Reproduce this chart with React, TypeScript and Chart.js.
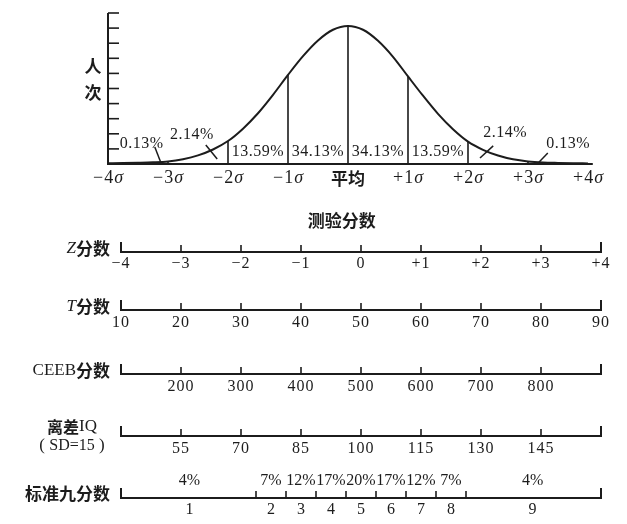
import React, { useEffect, useRef } from 'react';
import { Chart, registerables } from 'chart.js';
Chart.register(...registerables);

// ---- Normal curve (y in axis units 0..10) ----
const curveX = [-4, -3.75, -3.5, -3.25, -3, -2.75, -2.5, -2.25, -2, -1.75, -1.5, -1.25, -1, -0.75, -0.5, -0.25, 0,
  0.25, 0.5, 0.75, 1, 1.25, 1.5, 1.75, 2, 2.25, 2.5, 2.75, 3, 3.25, 3.5, 3.75, 4];
const curveY = [0.05, 0.06, 0.08, 0.11, 0.17, 0.32, 0.57, 0.96, 1.52, 2.34, 3.36, 4.58, 5.9, 7.14, 8.18, 8.89, 9.14,
  8.89, 8.16, 7.1, 5.8, 4.52, 3.32, 2.3, 1.48, 0.94, 0.56, 0.31, 0.17, 0.1, 0.07, 0.05, 0.04];

const dividerX = [-3, -2, -1, 0, 1, 2, 3];
const yTickValues = [1, 2, 3, 4, 5, 6, 7, 8, 9, 10];

const sigmaTicks = [-4, -3, -2, -1, 0, 1, 2, 3, 4];
const sigmaLabels = ['−4σ', '−3σ', '−2σ', '−1σ', '平均', '+1σ', '+2σ', '+3σ', '+4σ'];

const bandCenters = [-1.5, -0.5, 0.5, 1.5];
const bandPercents = ['13.59%', '34.13%', '34.13%', '13.59%'];

const tailLabels = ['0.13%', '2.14%', '2.14%', '0.13%'];
const tailLabelX = [-3.44, -2.6, 2.62, 3.67];
const tailLabelY = [1.32, 1.92, 2.05, 1.32];
const tailMarkFrom = [[-3.22, 1.13], [-2.37, 1.26], [2.2, 0.4], [3.17, 0.07]];
const tailMarkTo = [[-3.12, 0.1], [-2.18, 0.33], [2.42, 1.2], [3.33, 0.73]];

// ---- Score rulers ----
const zTicks = [-4, -3, -2, -1, 0, 1, 2, 3, 4];
const zLabels = ['−4', '−3', '−2', '−1', '0', '+1', '+2', '+3', '+4'];
const tLabels = ['10', '20', '30', '40', '50', '60', '70', '80', '90'];
const midTicks = [-3, -2, -1, 0, 1, 2, 3];
const ceebLabels = ['200', '300', '400', '500', '600', '700', '800'];
const iqLabels = ['55', '70', '85', '100', '115', '130', '145'];
const stanineCuts = [-1.75, -1.25, -0.75, -0.25, 0.25, 0.75, 1.25, 1.75];
const stanineCenters = [-2.86, -1.5, -1, -0.5, 0, 0.5, 1, 1.5, 2.86];
const staninePercents = ['4%', '7%', '12%', '17%', '20%', '17%', '12%', '7%', '4%'];
const stanineNumbers = ['1', '2', '3', '4', '5', '6', '7', '8', '9'];

const RULER_SHIFT = 0.2167; // rulers sit slightly right of the curve's sigma scale
const SERIF = '"Liberation Serif", "Times New Roman", serif';
const CJK = '"Noto Sans CJK SC", "Noto Sans", sans-serif';
const INK = '#1c1c1c';

type Seg = { t: string; f: string; ls?: number };

function drawSegs(ctx: CanvasRenderingContext2D, segs: Seg[], x: number, y: number, align: 'left' | 'center' | 'right') {
  const c: any = ctx;
  const widths = segs.map((s) => {
    ctx.font = s.f;
    c.letterSpacing = (s.ls || 0) + 'px';
    return ctx.measureText(s.t).width;
  });
  const total = widths.reduce((a, b) => a + b, 0);
  let cx = align === 'left' ? x : align === 'right' ? x - total : x - total / 2;
  ctx.textAlign = 'left';
  ctx.textBaseline = 'middle';
  segs.forEach((s, i) => {
    ctx.font = s.f;
    c.letterSpacing = (s.ls || 0) + 'px';
    ctx.fillText(s.t, cx, y);
    cx += widths[i];
  });
  c.letterSpacing = '0px';
}

function seg(ctx: CanvasRenderingContext2D, x1: number, y1: number, x2: number, y2: number, w: number) {
  ctx.lineWidth = w;
  ctx.beginPath();
  ctx.moveTo(x1, y1);
  ctx.lineTo(x2, y2);
  ctx.stroke();
}

const heightAt = (x: number) => curveY[curveX.indexOf(x)];

const decor = {
  id: 'decor',
  afterDatasetsDraw(chart: any) {
    const ctx: CanvasRenderingContext2D = chart.ctx;
    const xs = chart.scales.x, ys = chart.scales.y, zs = chart.scales.zb;
    const X = (v: number) => xs.getPixelForValue(v);
    const Y = (v: number) => ys.getPixelForValue(v);
    const Z = (v: number) => zs.getPixelForValue(v);
    ctx.save();
    ctx.strokeStyle = INK;
    ctx.fillStyle = INK;

    // axes of the curve panel
    seg(ctx, X(-4), Y(10), X(-4), Y(0) + 1, 2);
    seg(ctx, X(-4), Y(0), X(4.08), Y(0), 2);
    yTickValues.forEach((v) => seg(ctx, X(-4), Y(v), X(-4) + 11, Y(v), 1.6));
    drawSegs(ctx, [{ t: '人', f: `bold 17px ${CJK}` }], X(-4) - 15, Y(6.45), 'center');
    drawSegs(ctx, [{ t: '次', f: `bold 17px ${CJK}` }], X(-4) - 15, Y(4.75), 'center');

    // sigma labels
    const ly = Y(0) + 14;
    sigmaTicks.forEach((v, i) => {
      const lab = sigmaLabels[i];
      if (lab.endsWith('σ')) {
        drawSegs(ctx, [
          { t: lab.slice(0, -1), f: `18px ${SERIF}`, ls: 1 },
          { t: 'σ', f: `italic 18px ${SERIF}` },
        ], X(v), ly, 'center');
      } else {
        drawSegs(ctx, [{ t: lab, f: `bold 17px ${CJK}` }], X(v), ly + 1, 'center');
      }
    });

    // band percentages
    bandCenters.forEach((v, i) => {
      drawSegs(ctx, [{ t: bandPercents[i], f: `16px ${SERIF}`, ls: 0.5 }], X(v), Y(0.82), 'center');
    });
    // tails
    tailLabels.forEach((t, i) => {
      drawSegs(ctx, [{ t, f: `16px ${SERIF}`, ls: 0.5 }], X(tailLabelX[i]), Y(tailLabelY[i]), 'center');
      const a = tailMarkFrom[i], b = tailMarkTo[i];
      seg(ctx, X(a[0]), Y(a[1]), X(b[0]), Y(b[1]), 1.5);
    });

    // title of rulers
    drawSegs(ctx, [{ t: '测验分数', f: `bold 17px ${CJK}` }], Z(-0.32), 221, 'center');

    const ruler = (y: number, ticks: number[]) => {
      seg(ctx, Z(-4), y, Z(4), y, 2);
      seg(ctx, Z(-4), y + 1, Z(-4), y - 10, 2);
      seg(ctx, Z(4), y + 1, Z(4), y - 10, 2);
      ticks.forEach((v) => seg(ctx, Z(v), y, Z(v), y - 7, 1.6));
    };
    const numFont = `16px ${SERIF}`;

    // Z
    ruler(252, midTicks);
    zTicks.forEach((v, i) => drawSegs(ctx, [{ t: zLabels[i], f: numFont, ls: 1 }], Z(v), 264, 'center'));
    drawSegs(ctx, [{ t: 'Z', f: `italic 17px ${SERIF}` }, { t: '分数', f: `bold 17px ${CJK}` }], 110, 249, 'right');
    // T
    ruler(310, midTicks);
    zTicks.forEach((v, i) => drawSegs(ctx, [{ t: tLabels[i], f: numFont, ls: 1 }], Z(v), 323, 'center'));
    drawSegs(ctx, [{ t: 'T', f: `italic 17px ${SERIF}` }, { t: '分数', f: `bold 17px ${CJK}` }], 110, 307, 'right');
    // CEEB
    ruler(374, midTicks);
    midTicks.forEach((v, i) => drawSegs(ctx, [{ t: ceebLabels[i], f: numFont, ls: 1 }], Z(v), 387, 'center'));
    drawSegs(ctx, [{ t: 'CEEB', f: `17px ${SERIF}` }, { t: '分数', f: `bold 17px ${CJK}` }], 110, 371, 'right');
    // IQ
    ruler(436, midTicks);
    midTicks.forEach((v, i) => drawSegs(ctx, [{ t: iqLabels[i], f: numFont, ls: 1 }], Z(v), 449, 'center'));
    drawSegs(ctx, [{ t: '离差', f: `bold 16px ${CJK}` }, { t: 'IQ', f: `17px ${SERIF}` }], 72, 427, 'center');
    drawSegs(ctx, [{ t: '( ', f: `17px ${SERIF}` }, { t: 'SD=15', f: `16px ${SERIF}` }, { t: ' )', f: `17px ${SERIF}` }], 72, 446, 'center');
    // Stanine
    ruler(498, stanineCuts);
    stanineCenters.forEach((v, i) => {
      drawSegs(ctx, [{ t: staninePercents[i], f: numFont }], Z(v), 481, 'center');
      drawSegs(ctx, [{ t: stanineNumbers[i], f: numFont }], Z(v), 510, 'center');
    });
    drawSegs(ctx, [{ t: '标准九分数', f: `bold 17px ${CJK}` }], 110, 494, 'right');

    ctx.restore();
  },
};

export default function App() {
  const ref = useRef<HTMLCanvasElement>(null);
  useEffect(() => {
    document.body.style.margin = '0';
    const chart = new Chart(ref.current as HTMLCanvasElement, {
      type: 'line',
      data: {
        datasets: [
          {
            data: curveX.map((x, i) => ({ x, y: curveY[i] })),
            borderColor: INK,
            borderWidth: 2,
            pointRadius: 0,
            cubicInterpolationMode: 'monotone',
            fill: false,
            clip: false,
          } as any,
          {
            data: dividerX.flatMap((x) => [{ x, y: 0 }, { x, y: heightAt(x) }, { x, y: null }]),
            borderColor: INK,
            borderWidth: 1.6,
            pointRadius: 0,
            tension: 0,
            spanGaps: false,
            fill: false,
          } as any,
        ],
      },
      options: {
        animation: false,
        responsive: false,
        devicePixelRatio: 1,
        events: [],
        layout: { padding: { left: 108, right: 26, top: 13, bottom: 360 } },
        plugins: { legend: { display: false }, tooltip: { enabled: false }, title: { display: false } },
        scales: {
          x: { type: 'linear', min: -4, max: 4 + RULER_SHIFT, display: false },
          zb: { type: 'linear', axis: 'x', min: -4 - RULER_SHIFT, max: 4, display: false },
          y: { type: 'linear', min: 0, max: 10, display: false },
        },
      } as any,
      plugins: [decor],
    });
    return () => chart.destroy();
  }, []);
  return <canvas ref={ref} width={627} height={524} style={{ display: 'block', background: '#fff' }} />;
}
